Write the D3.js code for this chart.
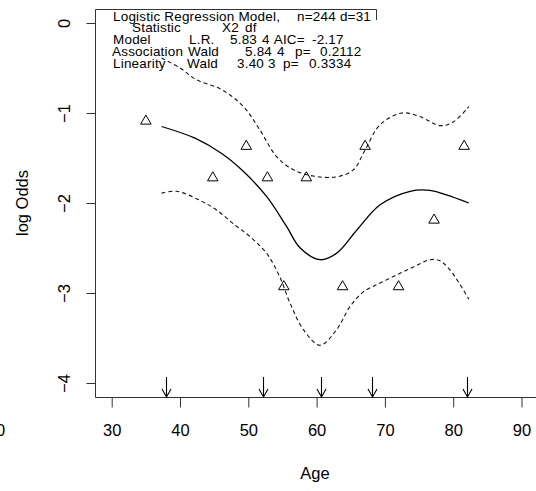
<!DOCTYPE html>
<html>
<head>
<meta charset="utf-8">
<script src="https://cdn.jsdelivr.net/npm/d3@7"></script>
<style>
  body { margin: 0; background: #fff; }
  text { font-family: "Liberation Sans", Arial, sans-serif; fill: #000; }
</style>
</head>
<body>
<div id="chart"></div>
<script>
// observed points (age, log odds)
const pointAge  = [35, 44.8, 49.7, 52.8, 58.5, 55.2, 63.8, 67.1, 72.0, 77.2, 81.6];
const pointLogOdds = [-1.09, -1.72, -1.37, -1.72, -1.72, -2.93, -2.93, -1.37, -2.93, -2.19, -1.37];

// fitted spline + confidence band
const fitAge = [37.3, 42.2, 46.1, 49.3, 52.7, 55.6, 57.6, 60.5, 62.9, 65.9, 69.3, 73.7, 76.6, 79.0, 82.3];
const fitVal = [-1.15, -1.28, -1.45, -1.65, -1.93, -2.26, -2.50, -2.63, -2.56, -2.30, -2.02, -1.87, -1.86, -1.91, -2.00];

const upperAge = [37.3, 40, 42.4, 46.1, 49.3, 51.7, 54.2, 56.6, 59.5, 62.9, 65.4, 67.1, 69.3, 72.5, 75.1, 78.1, 80.0, 82.3];
const upperVal = [-0.39, -0.50, -0.63, -0.74, -0.93, -1.19, -1.49, -1.63, -1.70, -1.71, -1.63, -1.41, -1.13, -1.00, -1.04, -1.14, -1.10, -0.93];

const lowerAge = [37.3, 39.5, 42.9, 45.4, 47.8, 50.2, 52.7, 54.6, 56.1, 58.1, 60.5, 62.9, 64.9, 66.8, 69, 71.7, 74.2, 76.6, 78, 79.5, 82.3];
const lowerVal = [-1.89, -1.87, -1.97, -2.08, -2.23, -2.37, -2.56, -2.82, -3.11, -3.41, -3.58, -3.41, -3.15, -2.99, -2.90, -2.80, -2.71, -2.63, -2.64, -2.74, -3.07];

// knot locations (arrows)
const knots = [38.0, 52.2, 60.7, 68.1, 82.0];

const xTicks = [30, 40, 50, 60, 70, 80, 90];
const yTicks = [0, -1, -2, -3, -4];

// model summary text
const statLines = [
  [["Logistic Regression Model,", 113], ["n=244", 297], ["d=31", 336]],
  [["Statistic", 132], ["X2", 222], ["df", 245]],
  [["Model", 113], ["L.R.", 189], ["5.83", 230], ["4", 262], ["AIC=", 273], ["-2.17", 312]],
  [["Association", 112], ["Wald", 188], ["5.84", 245], ["4", 277], ["p=", 295], ["0.2112", 320]],
  [["Linearity", 113], ["Wald", 187], ["3.40", 237], ["3", 268], ["p=", 283], ["0.3334", 309]]
];

const width = 536, height = 491;
const box = { left: 95, top: 9, bottom: 397 };

const svg = d3.select("#chart").append("svg")
  .attr("width", width).attr("height", height);
svg.append("rect").attr("width", width).attr("height", height).attr("fill", "#fff");

const x = d3.scaleLinear().domain([30, 90]).range([111.7, 521.5]);
const y = d3.scaleLinear().domain([0, -4]).range([23, 383]);

// frame: left + bottom + top part
svg.append("path")
  .attr("d", `M376.5,${box.top + 11}V${box.top + 0.5}H${box.left + 0.5}V${box.bottom + 0.5}H${width + 5}`)
  .attr("fill", "none").attr("stroke", "#333").attr("stroke-width", 1);

// y axis
const yAxis = svg.append("g")
  .attr("transform", `translate(${box.left + 0.5},0)`)
  .call(d3.axisLeft(y).tickValues(yTicks).tickSize(9).tickFormat(d3.format("d")));
yAxis.select(".domain").remove();
yAxis.selectAll(".tick line").attr("stroke", "#333");
yAxis.selectAll(".tick text")
  .attr("font-size", 16.5).attr("font-family", "Liberation Sans, Arial")
  .attr("fill", "#000")
  .attr("x", null).attr("dy", null)
  .attr("text-anchor", "middle")
  .attr("transform", "translate(-32,0) rotate(-90)")
  .attr("dominant-baseline", "central");

// x axis
const xAxis = svg.append("g")
  .attr("transform", `translate(0,${box.bottom + 0.5})`)
  .call(d3.axisBottom(x).tickValues(xTicks).tickSize(10).tickFormat(d3.format("d")));
xAxis.select(".domain").remove();
xAxis.selectAll(".tick line").attr("stroke", "#333");
xAxis.selectAll(".tick text")
  .attr("font-size", 16.5).attr("font-family", "Liberation Sans, Arial")
  .attr("fill", "#000")
  .attr("y", 33).attr("dy", "0.32em");

// stray label from neighbouring panel
svg.append("text").attr("x", -4).attr("y", 436).attr("font-size", 16.5).text("0");

// axis titles
svg.append("text")
  .attr("x", 315).attr("y", 479).attr("text-anchor", "middle")
  .attr("font-size", 16.5).text("Age");
svg.append("text")
  .attr("transform", "translate(28,203) rotate(-90)")
  .attr("text-anchor", "middle").attr("font-size", 16.5).text("log Odds");

// curves
const line = d3.line()
  .x(d => x(d[0])).y(d => y(d[1]))
  .curve(d3.curveCatmullRom.alpha(0.5));

svg.append("path")
  .datum(d3.zip(fitAge, fitVal))
  .attr("d", line)
  .attr("fill", "none").attr("stroke", "#000").attr("stroke-width", 1.3);

[[upperAge, upperVal], [lowerAge, lowerVal]].forEach(([a, v]) => {
  svg.append("path")
    .datum(d3.zip(a, v))
    .attr("d", line)
    .attr("fill", "none").attr("stroke", "#111").attr("stroke-width", 1.1)
    .attr("stroke-dasharray", "4,3");
});

// points
const tri = d3.symbol().type(d3.symbolTriangle).size(48);
svg.append("g").selectAll("path")
  .data(d3.zip(pointAge, pointLogOdds))
  .join("path")
  .attr("d", tri)
  .attr("transform", d => `translate(${x(d[0])},${y(d[1])})`)
  .attr("fill", "none").attr("stroke", "#000").attr("stroke-width", 1);

// knot arrows
const arrows = svg.append("g").attr("stroke", "#000").attr("fill", "none").attr("stroke-width", 1.1);
knots.forEach(k => {
  const kx = Math.round(x(k)) + 0.5;
  arrows.append("path")
    .attr("d", `M${kx},377V${box.bottom}M${kx - 4.5},389L${kx},${box.bottom}L${kx + 4.5},389`);
});

// model summary; push a token right if it would run into the previous one
const stat = svg.append("g").attr("font-size", 13.5).attr("letter-spacing", 0.2);
statLines.forEach((tokens, i) => {
  let end = 0;
  tokens.forEach(([t, tx]) => {
    const px = Math.max(tx, end + 4);
    const el = stat.append("text")
      .attr("transform", `translate(${px},${20.5 + 11.9 * i}) scale(1,0.9)`)
      .text(t);
    end = px + el.node().getComputedTextLength();
  });
});
</script>
</body>
</html>
